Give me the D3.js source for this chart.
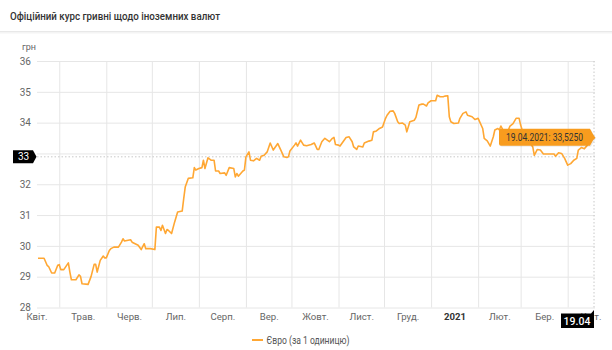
<!DOCTYPE html>
<html><head><meta charset="utf-8">
<script src="https://cdn.jsdelivr.net/npm/d3@7"></script>
<style>body{margin:0;background:#fff;font-family:Roboto,"Noto Sans",sans-serif}</style>
</head><body>
<svg id="c" width="612" height="350"></svg>
<script>
const title = "Офіційний курс гривні щодо іноземних валют";
const unitLabel = "грн";
const seriesName = "Євро (за 1 одиницю)";
const dates = ["2020-04-17","2020-04-21","2020-04-23","2020-04-24","2020-04-26","2020-04-28","2020-04-30","2020-05-01","2020-05-02","2020-05-04",
"2020-05-07","2020-05-08","2020-05-09","2020-05-12","2020-05-14","2020-05-15","2020-05-16","2020-05-20","2020-05-22","2020-05-24",
"2020-05-25","2020-05-26","2020-05-28","2020-05-30","2020-05-31","2020-06-01","2020-06-03","2020-06-04","2020-06-06","2020-06-09",
"2020-06-11","2020-06-12","2020-06-13","2020-06-17","2020-06-18","2020-06-22","2020-06-24","2020-06-26","2020-06-27","2020-06-30",
"2020-07-03","2020-07-04","2020-07-06","2020-07-07","2020-07-08","2020-07-10","2020-07-11","2020-07-12","2020-07-14","2020-07-16",
"2020-07-18","2020-07-21","2020-07-22","2020-07-23","2020-07-25","2020-07-28","2020-07-29","2020-07-30","2020-08-01","2020-08-03",
"2020-08-04","2020-08-05","2020-08-07","2020-08-09","2020-08-11","2020-08-12","2020-08-14","2020-08-15","2020-08-18","2020-08-19",
"2020-08-21","2020-08-24","2020-08-25","2020-08-26","2020-08-27","2020-08-30","2020-08-31","2020-09-01","2020-09-03","2020-09-04",
"2020-09-06","2020-09-08","2020-09-10","2020-09-11","2020-09-13","2020-09-15","2020-09-17","2020-09-19","2020-09-22","2020-09-24",
"2020-09-26","2020-09-28","2020-09-29","2020-09-30","2020-10-03","2020-10-04","2020-10-05","2020-10-07","2020-10-09","2020-10-11",
"2020-10-14","2020-10-16","2020-10-18","2020-10-19","2020-10-21","2020-10-23","2020-10-26","2020-10-28","2020-10-29","2020-10-30",
"2020-11-01","2020-11-02","2020-11-04","2020-11-06","2020-11-08","2020-11-10","2020-11-11","2020-11-13","2020-11-14","2020-11-17",
"2020-11-18","2020-11-21","2020-11-23","2020-11-24","2020-11-26","2020-11-28","2020-11-30","2020-12-02","2020-12-03","2020-12-05",
"2020-12-07","2020-12-08","2020-12-10","2020-12-11","2020-12-13","2020-12-15","2020-12-16","2020-12-18","2020-12-21","2020-12-22",
"2020-12-24","2020-12-26","2020-12-27","2020-12-29","2020-12-30","2021-01-01","2021-01-04","2021-01-05","2021-01-07","2021-01-09",
"2021-01-10","2021-01-12","2021-01-13","2021-01-14","2021-01-16","2021-01-19","2021-01-20","2021-01-22","2021-01-24","2021-01-25",
"2021-01-28","2021-01-30","2021-02-01","2021-02-04","2021-02-05","2021-02-07","2021-02-09","2021-02-11","2021-02-12","2021-02-14",
"2021-02-15","2021-02-16","2021-02-18","2021-02-20","2021-02-22","2021-02-24","2021-02-26","2021-02-28","2021-03-01","2021-03-03",
"2021-03-06","2021-03-09","2021-03-10","2021-03-12","2021-03-14","2021-03-16","2021-03-18","2021-03-23","2021-03-24","2021-03-26",
"2021-03-28","2021-03-30","2021-04-01","2021-04-03","2021-04-05","2021-04-07","2021-04-08","2021-04-10","2021-04-12","2021-04-14",
"2021-04-16","2021-04-19"];
const values = [29.60,29.60,29.37,29.33,29.12,29.12,29.37,29.39,29.23,29.23,
29.45,29.15,28.90,28.90,29.06,29.01,28.77,28.75,29.01,29.40,
29.40,29.15,29.53,29.67,29.61,29.61,29.85,29.91,29.96,29.96,
30.12,30.23,30.16,30.20,30.12,30.02,29.88,30.07,29.91,29.91,
29.88,30.61,30.61,30.50,30.67,30.40,30.53,30.50,30.40,30.77,
31.10,31.13,31.53,31.91,32.19,32.21,32.54,32.46,32.51,32.54,
32.78,32.51,32.86,32.78,32.78,32.43,32.43,32.35,32.37,32.29,
32.54,32.51,32.24,32.35,32.26,32.43,32.46,32.89,33.05,32.78,
32.76,32.84,32.78,32.91,32.94,33.05,33.34,33.11,33.32,33.11,
32.89,32.87,32.89,33.08,33.27,33.34,33.24,33.43,33.27,33.25,
33.29,33.34,33.13,33.13,33.38,33.49,33.38,33.49,33.52,33.29,
33.27,33.24,33.38,33.52,33.54,33.38,33.21,33.13,33.24,33.21,
33.34,33.40,33.43,33.70,33.73,33.81,33.86,34.14,34.24,34.37,
34.38,34.30,34.03,33.97,33.99,33.92,33.70,34.03,34.08,34.17,
34.57,34.60,34.60,34.54,34.64,34.71,34.71,34.89,34.84,34.84,
34.86,34.87,34.19,34.03,33.97,33.99,34.14,34.30,34.35,34.24,
34.19,34.10,34.14,33.81,33.49,33.41,33.24,33.54,33.76,33.81,
33.76,33.89,33.70,33.65,33.89,33.97,34.14,34.14,33.92,33.60,
33.45,33.21,32.94,33.13,33.11,32.98,32.98,32.98,32.91,33.02,
33.00,32.84,32.62,32.67,32.78,32.84,33.11,33.19,33.15,33.27,
33.40,33.525];
const yTicks = [28,29,30,31,32,33,34,35,36];
const monthStarts = ["2020-04-01","2020-05-01","2020-06-01","2020-07-01","2020-08-01","2020-09-01","2020-10-01","2020-11-01","2020-12-01","2021-01-01","2021-02-01","2021-03-01","2021-04-01","2021-05-01"];
const monthLabels = ["Квіт.","Трав.","Черв.","Лип.","Серп.","Вер.","Жовт.","Лист.","Груд.","2021","Лют.","Бер.","Квіт."];
const domainDates = ["2020-04-17","2021-04-19"];
const tooltipText = "19.04.2021: 33,5250";
const crossY = 32.89, crossYLabel = "33", crossXLabel = "19.04";

const parse = d3.utcParse("%Y-%m-%d");
const data = dates.map((d,i)=>({d:parse(d), v:values[i]}));
const svg = d3.select("#c");
const pL = 37, pR = 595, pT = 61, pB = 307.5;
const x = d3.scaleUtc().domain(domainDates.map(parse)).range([38, 595]);
const y = d3.scaleLinear().domain([28,36]).range([pB, pT]);
const lineColor = "#ffa733";

// title
svg.append("text").attr("x",10).attr("y",19.5).text(title)
  .attr("font-size",11).attr("font-weight",500).attr("fill","#333")
  .attr("textLength",210).attr("lengthAdjust","spacingAndGlyphs");
svg.append("rect").attr("x",0).attr("y",31).attr("width",612).attr("height",1).attr("fill","#e8e8e8");
svg.append("rect").attr("x",0).attr("y",32).attr("width",612).attr("height",1.5).attr("fill","#f4f4f4");

// y grid + labels
const yAxis = svg.append("g").attr("transform",`translate(${pL},0)`)
  .call(d3.axisLeft(y).tickValues(yTicks).tickSize(-(pR-pL)).tickFormat(d=>String(d)===crossYLabel?"":d3.format("d")(d)));
yAxis.select(".domain").remove();
yAxis.selectAll(".tick line").attr("stroke","#e6e6e6");
yAxis.selectAll(".tick text").attr("x",-6).attr("fill","#666").attr("font-size",10).attr("font-family","Roboto");

// x grid
const starts = monthStarts.map(parse);
const xGrid = svg.append("g").attr("transform",`translate(0,${pB})`)
  .call(d3.axisBottom(x).tickValues(starts.slice(1,13)).tickSize(-(pB-pT)).tickFormat(""));
xGrid.select(".domain").remove();
xGrid.selectAll(".tick line").attr("stroke","#e6e6e6");

// x labels at mid-month
const mids = starts.slice(0,13).map((s,i)=>new Date((+s + +starts[i+1])/2));
const xLab = svg.append("g").attr("transform",`translate(0,${pB})`)
  .call(d3.axisBottom(x).tickValues(mids).tickSize(0).tickPadding(6).tickFormat((d,i)=>monthLabels[i]));
xLab.select(".domain").remove();
xLab.selectAll(".tick text").attr("fill",(d,i)=>monthLabels[i]==="2021"?"#333":"#666")
  .attr("font-weight",(d,i)=>monthLabels[i]==="2021"?"bold":"normal")
  .attr("font-size",9.6).attr("font-family","Roboto");

// unit
svg.append("text").attr("x",22).attr("y",50).text(unitLabel).attr("font-size",9).attr("fill","#666");

// crosshairs
svg.append("line").attr("x1",pL).attr("x2",pR).attr("y1",y(crossY)).attr("y2",y(crossY))
  .attr("stroke","#c8c8c8").attr("stroke-dasharray","1.5,2");
const lastD = data[data.length-1];
svg.append("line").attr("x1",x(lastD.d)-1).attr("x2",x(lastD.d)-1).attr("y1",pT).attr("y2",pB)
  .attr("stroke","#c8c8c8").attr("stroke-dasharray","1.5,2");

// series line
svg.append("path").datum(data)
  .attr("d", d3.line().x(d=>x(d.d)).y(d=>y(d.v)))
  .attr("fill","none").attr("stroke",lineColor).attr("stroke-width",1.6).attr("stroke-linejoin","round");

// y crosshair label
const cy = y(crossY);
svg.append("path").attr("d",`M13,${cy-6.5}H33L36.5,${cy}L33,${cy+6.5}H13Z`).attr("fill","#000");
svg.append("text").attr("x",23.5).attr("y",cy+3.6).attr("text-anchor","middle").text(crossYLabel)
  .attr("font-size",10).attr("fill","#fff");

// x crosshair label
const cx = x(lastD.d)-1;
svg.append("path").attr("d",`M${cx-33},${pB+6}H${cx-3}L${cx},${pB+2.5}V${pB+20.5}H${cx-33}Z`).attr("fill","#000");
svg.append("text").attr("x",cx-17).attr("y",pB+17).attr("text-anchor","middle").text(crossXLabel)
  .attr("font-size",10.5).attr("font-weight",500).attr("fill","#fff");

// tooltip
const px = x(lastD.d), py = y(lastD.v);
const tipPath = `M501,${py-8.5}H590L593,${py-3}L${px},${py}L593,${py+3}L590,${py+8.5}H501Q499,${py+8.5} 499,${py+6.5}V${py-6.5}Q499,${py-8.5} 501,${py-8.5}Z`;
const tg = svg.append("g");
tg.append("path").attr("d",tipPath).attr("fill","#000").attr("opacity",0.08).attr("transform","translate(1,1)");
tg.append("path").attr("d",tipPath).attr("fill","#f89c1e");
tg.append("text").attr("x",506).attr("y",py+3.7).text(tooltipText)
  .attr("font-size",10.3).attr("fill","#333")
  .attr("textLength",77).attr("lengthAdjust","spacingAndGlyphs");

// legend
svg.append("line").attr("x1",252).attr("x2",263).attr("y1",340).attr("y2",340).attr("stroke",lineColor).attr("stroke-width",2);
svg.append("text").attr("x",266.5).attr("y",343.5).text(seriesName).attr("font-size",10).attr("fill","#555")
  .attr("textLength",83).attr("lengthAdjust","spacingAndGlyphs");
</script>
</body></html>
